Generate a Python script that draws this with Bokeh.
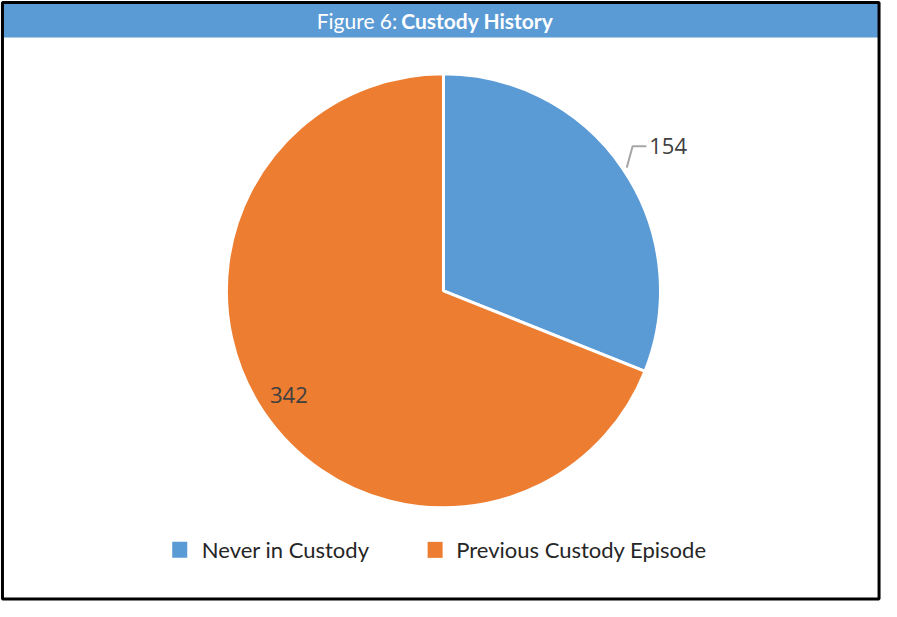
import math
from bokeh.plotting import figure
from bokeh.models import Range1d, ColumnDataSource
from bokeh.core.properties import value
from bokeh.embed import file_html
from bokeh.resources import INLINE

# ---- data ----
categories = ["Never in Custody", "Previous Custody Episode"]
counts = [154, 342]
colors = ["#5B9BD5", "#ED7D31"]
title_light = "Figure 6:"
title_bold = "Custody History"

# ---- layout (reference pixel space 897x617 mapped onto 881x601 figure) ----
W, H = 897, 617
p = figure(width=881, height=601, x_range=Range1d(0, W), y_range=Range1d(0, H),
           output_backend="svg", toolbar_location=None, min_border=0)
p.axis.visible = False
p.grid.visible = False
p.outline_line_color = None
p.background_fill_color = "white"

def Y(y):
    return H - y

# title bar
p.quad(left=[2], right=[W - 2], top=[Y(2)], bottom=[Y(38)], fill_color="#5B9BD5", line_color=None)
p.text(x=[404], y=[Y(21)], text=[title_light], text_color="white", text_align="right",
       text_baseline="middle", text_font=value("Lato"), text_font_size="21px")
p.text(x=[408], y=[Y(21)], text=[title_bold], text_color="white", text_align="left",
       text_baseline="middle", text_font=value("Lato"), text_font_style="bold",
       text_font_size="21px")

# border
p.quad(left=[2], right=[W - 2.5], top=[Y(2)], bottom=[Y(H - 2.5)], fill_color=None,
       line_color="black", line_width=3)

# pie
cx, cy, R = 451, Y(298), 221
total = sum(counts)
starts, ends, mids = [], [], []
a = math.pi / 2
for c in counts:
    sweep = 2 * math.pi * c / total
    starts.append(a - sweep)
    ends.append(a)
    mids.append(a - sweep / 2)
    a -= sweep
src = ColumnDataSource(dict(start=starts, end=ends, color=colors, cat=categories))
p.wedge(x=cx, y=cy, radius=R, start_angle="start", end_angle="end", fill_color="color",
        line_color="white", line_width=3, source=src)

# label for first slice (outside with leader line)
m0 = mids[0]
x0 = cx + 1.02 * R * math.cos(m0)
y0 = cy + 1.02 * R * math.sin(m0)
m0e = m0 + math.radians(3.5)
x1 = cx + 1.10 * R * math.cos(m0e)
y1 = cy + 1.10 * R * math.sin(m0e)
x2 = x1 + 14
p.line(x=[x0, x1, x2], y=[y0, y1, y1], line_color="#A6A6A6", line_width=2)
p.text(x=[x2 + 3], y=[y1], text=[str(counts[0])], text_align="left", text_baseline="middle",
       text_color="#404040", text_font=value("Open Sans"), text_font_size="22px")

# label for second slice (inside)
m1 = mids[1]
p.text(x=[cx + 0.86 * R * math.cos(m1)], y=[cy + 0.86 * R * math.sin(m1)],
       text=[str(counts[1])], text_align="center", text_baseline="middle",
       text_color="#404040", text_font=value("Open Sans"), text_font_size="22px")

# legend
leg_sq_x = [182.5, 442.5]
leg_tx_x = [205, 464]
leg_y = Y(564)
p.rect(x=leg_sq_x, y=[leg_y] * 2, width=15, height=16, width_units="screen",
       height_units="screen", fill_color=colors, line_color=None)
p.text(x=leg_tx_x, y=[leg_y] * 2, text=categories, text_align="left", text_baseline="middle",
       text_color="#262626", text_font=value("Lato"), text_font_size="22px")

open("out.html", "w").write(file_html(p, INLINE))
